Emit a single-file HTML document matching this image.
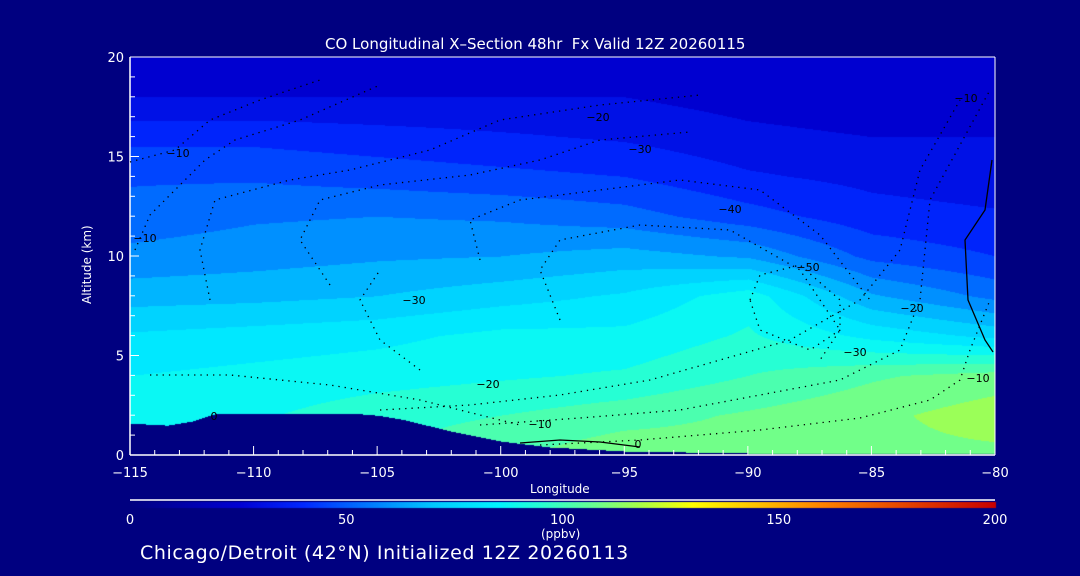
<!DOCTYPE html>
<html><head><meta charset="utf-8">
<style>
body{margin:0;background:#000080;width:1080px;height:576px;overflow:hidden;font-family:"Liberation Sans",sans-serif;color:#fff}
#wrap{position:relative;width:1080px;height:576px}
.t{position:absolute;color:#fff;white-space:nowrap;font-family:"DejaVu Sans","Liberation Sans",sans-serif}
</style></head><body>
<div id="wrap">
<canvas id="cv" width="1080" height="576" style="position:absolute;left:0;top:0"></canvas>
<svg id="sv" width="1080" height="576" style="position:absolute;left:0;top:0"></svg>
<div class="t" style="left:325px;top:35px;font-size:15px">CO Longitudinal X–Section 48hr&nbsp; Fx Valid 12Z 20260115</div>
<div class="t" style="left:80px;top:304px;font-size:12px;transform:rotate(-90deg);transform-origin:0 0">Altitude (km)</div>
<div class="t" style="left:530px;top:482px;font-size:12px">Longitude</div>
<div class="t" style="left:541px;top:527px;font-size:12px">(ppbv)</div>
<div class="t" style="left:140px;top:542px;font-size:19px;letter-spacing:0.6px">Chicago/Detroit (42°N) Initialized 12Z 20260113</div>
</div>
<script>
const lons=[-115,-110,-105,-100,-95,-90,-85,-80];
const alts=[0,2,4,6,8,10,12,14,16,18,20];
const co=[
[90,92,98,104,110,108,110,110],
[90,90,95,98,102,106,110,116],
[84,86,88,90,92,98,104,108],
[78,80,82,86,86,92,82,75],
[67,68,70,74,78,88,64,54],
[58,60,62,63,66,62,47,42],
[52,55,56,55,52,45,38,36],
[48,48,46,44,42,36,33,31],
[40,40,38,36,34,30,28,28],
[28,28,28,28,28,25,23,23],
[22,22,22,22,22,22,22,22]];
const terrLon=[-115,-113.5,-112.5,-111.5,-110,-106,-105,-104,-102,-100,-98,-95,-90,-80];
const terrAlt=[1.6,1.5,1.7,2.1,2.1,2.1,2.0,1.8,1.2,0.7,0.4,0.2,0.1,0.1];
const xTicks=[-115,-110,-105,-100,-95,-90,-85,-80];
const yTicks=[0,5,10,15,20];
const cbTicks=[0,50,100,150,200];
const X0=130,X1=995,Y0=455,Y1=57;
const xs=l=>X0+(l+115)/35*(X1-X0);
const ys=a=>Y0-a/20*(Y0-Y1);
const stops=[[0,0,0,128],[25,0,0,210],[40,0,40,255],[55,0,120,255],[70,0,200,255],[85,0,245,255],[95,40,255,210],[108,110,255,140],[118,170,255,70],[130,255,255,0],[160,255,130,0],[200,200,0,0]];
function cmap(v){for(let i=1;i<stops.length;i++){if(v<=stops[i][0]){const a=stops[i-1],b=stops[i],t=(v-a[0])/(b[0]-a[0]);return[a[1]+t*(b[1]-a[1]),a[2]+t*(b[2]-a[2]),a[3]+t*(b[3]-a[3])].map(Math.round);}}return[200,0,0];}
function interp(arrX,arrY,x){for(let i=1;i<arrX.length;i++)if(x<=arrX[i]){const t=(x-arrX[i-1])/(arrX[i]-arrX[i-1]);return arrY[i-1]+t*(arrY[i]-arrY[i-1]);}return arrY[arrY.length-1];}
function field(lon,alt){let fi=(lon+115)/5,fj=alt/2;let i=Math.min(Math.floor(fi),lons.length-2),j=Math.min(Math.floor(fj),alts.length-2);let u=fi-i,w=fj-j;
return co[j][i]*(1-u)*(1-w)+co[j][i+1]*u*(1-w)+co[j+1][i]*(1-u)*w+co[j+1][i+1]*u*w;}
const cv=document.getElementById('cv'),ctx=cv.getContext('2d');
const img=ctx.createImageData(X1-X0,Y0-Y1);
for(let py=0;py<Y0-Y1;py++)for(let px=0;px<X1-X0;px++){
const lon=-115+px/(X1-X0)*35,alt=(Y0-Y1-py)/(Y0-Y1)*20;
let c;if(alt<interp(terrLon,terrAlt,lon))c=[0,0,128];else{let v=field(lon,alt);v=Math.floor(v/7)*7+3.5;c=cmap(v);}
const k=(py*(X1-X0)+px)*4;img.data[k]=c[0];img.data[k+1]=c[1];img.data[k+2]=c[2];img.data[k+3]=255;}
ctx.putImageData(img,X0,Y1);
for(let x=X0;x<=X1;x++){const c=cmap((x-X0)/(X1-X0)*200);ctx.fillStyle=`rgb(${c[0]},${c[1]},${c[2]})`;ctx.fillRect(x,502,1,6);}
const sv=document.getElementById('sv');const NS='http://www.w3.org/2000/svg';
function mk(tag,at,name,txt){const e=document.createElementNS(NS,tag);for(const k in at)e.setAttribute(k,at[k]);


if(txt!==undefined)e.textContent=txt;sv.appendChild(e);return e;}
mk('line',{x1:X0,y1:Y0,x2:X1,y2:Y0,stroke:'#fff','stroke-width':1.5},'x-axis-line');
mk('line',{x1:X0,y1:Y0,x2:X0,y2:Y1,stroke:'#fff','stroke-width':1.5},'y-axis-line');
mk('line',{x1:X0,y1:Y1,x2:X1,y2:Y1,stroke:'#fff','stroke-width':1},'frame-top');
mk('line',{x1:X1,y1:Y1,x2:X1,y2:Y0,stroke:'#fff','stroke-width':1},'frame-right');
mk('line',{x1:X0,y1:500,x2:X1,y2:500,stroke:'#fff','stroke-width':1.5},'colorbar-line');
for(let l=-115;l<=-80;l++){const x=xs(l);const major=l%5===0;mk('line',{x1:x,y1:Y0,x2:x,y2:Y0-(major?9:5),stroke:'#fff'},'x-tick');}
xTicks.forEach(l=>mk('text',{x:xs(l),y:477,fill:'#fff','font-size':13,'text-anchor':'middle','font-family':'DejaVu Sans,sans-serif'},'x-tick-label',String(l).replace('-','\u2212')));
for(let a=0;a<=20;a++){const y=ys(a);mk('line',{x1:X0,y1:y,x2:X0+(a%5===0?9:5),y2:y,stroke:'#fff'},'y-tick');}
yTicks.forEach(a=>mk('text',{x:124,y:ys(a)+5,fill:'#fff','font-size':13,'text-anchor':'end','font-family':'DejaVu Sans,sans-serif'},'y-tick-label',String(a)));
cbTicks.forEach(v=>mk('text',{x:X0+v/200*(X1-X0),y:524,fill:'#fff','font-size':13,'text-anchor':'middle','font-family':'DejaVu Sans,sans-serif'},'colorbar-tick-label',String(v)));
const paths=[
"M130,162 L175,150 L210,120 L260,100 L320,80",
"M135,250 L150,215 L175,190 L205,160 L235,140 L300,120 L380,85",
"M210,300 L200,250 L215,200 L290,180 L350,170 L430,150 L500,120 L600,105 L700,95",
"M330,285 L300,240 L320,200 L380,185 L470,175 L540,160 L600,140 L690,132",
"M480,260 L470,220 L520,200 L600,190 L680,180 L760,190 L820,235 L870,300",
"M560,320 L540,270 L560,240 L640,225 L730,230 L800,270 L840,330 L820,360",
"M420,370 L380,340 L360,300 L380,270",
"M750,300 L760,275 L800,265 L840,300 L840,330 L810,350 L760,330 Z",
"M380,410 L470,405 L560,395 L650,380 L720,360 L790,340 L860,300 L900,250 L920,170 L960,100",
"M480,425 L580,418 L680,410 L760,395 L840,380 L900,350 L920,300 L930,200 L990,90",
"M150,375 L230,375 L330,385 L420,400 L520,425",
"M540,445 L640,440 L760,430 L860,418 L930,400 L960,380 L970,350 L990,300"];
paths.forEach(d=>mk('path',{d:d,fill:'none',stroke:'#000','stroke-width':1.3,'stroke-dasharray':'1.3 5'},'contour-line'));
mk('path',{d:"M992,160 L985,210 L965,240 L968,300 L985,340 L993,352",fill:'none',stroke:'#000','stroke-width':1.3},'contour-zero-line');
mk('path',{d:"M520,443 L560,440 L600,442 L640,447",fill:'none',stroke:'#000','stroke-width':1.2},'contour-zero-line');
const labs=[[178,157,'\u221210'],[145,242,'\u221210'],[598,121,'\u221220'],[640,153,'\u221230'],[730,213,'\u221240'],[808,271,'\u221250'],[414,304,'\u221230'],[488,388,'\u221220'],[540,428,'\u221210'],[855,356,'\u221230'],[912,312,'\u221220'],[978,382,'\u221210'],[966,102,'\u221210'],[214,420,'0'],[638,448,'0']];
labs.forEach(l=>mk('text',{x:l[0],y:l[1],fill:'#000','font-size':11,'text-anchor':'middle','font-family':'DejaVu Sans,sans-serif'},'contour-label',l[2]));
</script>
</body></html>
